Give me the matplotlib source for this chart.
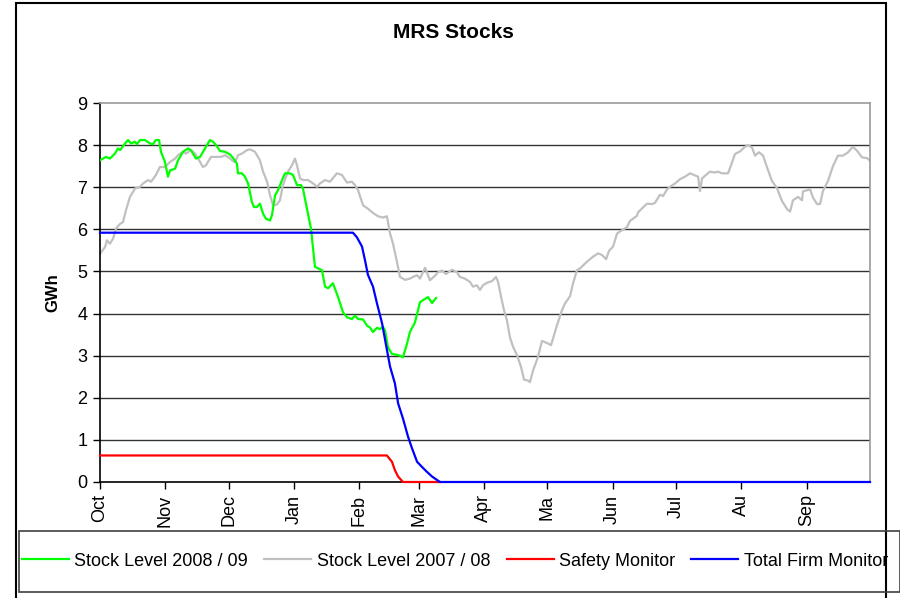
import matplotlib
matplotlib.use("Agg")
import matplotlib.pyplot as plt
from matplotlib.patches import Rectangle

plt.rcParams['font.family'] = ['Liberation Sans', 'DejaVu Sans']

# days since 1 Oct
months = ['Oct', 'Nov', 'Dec', 'Jan', 'Feb', 'Mar', 'Apr', 'Ma', 'Jun', 'Jul', 'Au', 'Sep']
month_days = [0, 31, 61, 92, 123, 151, 182, 212, 243, 273, 304, 335]

# Stock level 2008/09
d0809 = [0, 2.8, 4.7, 7.1, 8.5, 9.5, 11.9, 13.3, 14.7, 16.6, 17.5, 19.0, 21.3, 23.7, 25.1,
         26.5, 28.0, 28.9, 30.8, 32.2, 33.2, 35.6, 37.0, 39.3, 41.7, 43.1, 45.5, 47.4, 49.8,
         52.1, 53.6, 55.0, 56.9, 59.3, 61.6, 63.0, 64.9, 65.4, 67.3, 68.7, 70.2, 72.0, 73.0,
         74.4, 75.8, 77.3, 78.7, 80.6, 81.5, 83.0, 84.4, 86.3, 87.7, 90.1, 91.5, 93.4, 95.3,
         96.2, 98.1, 100.0, 101.0, 101.9, 105.2, 106.7, 108.1, 110.4, 112.8, 115.2, 117.1,
         119.4, 120.9, 122.3, 124.7, 126.6, 128.0, 129.4, 131.3, 132.7, 134.1, 135.1, 136.5,
         138.4, 140.8, 142.2, 143.6, 145.5, 146.9, 149.3, 151.7, 154.1, 155.5, 157.4, 159.3]
v0809 = [7.64, 7.72, 7.68, 7.80, 7.92, 7.88, 8.04, 8.12, 8.04, 8.08, 8.02, 8.12, 8.12, 8.04, 8.02,
         8.12, 8.12, 7.84, 7.60, 7.25, 7.40, 7.44, 7.64, 7.84, 7.92, 7.88, 7.68, 7.72, 7.92,
         8.12, 8.08, 8.00, 7.86, 7.84, 7.78, 7.70, 7.56, 7.33, 7.33, 7.25, 7.09, 6.65, 6.53,
         6.53, 6.61, 6.37, 6.25, 6.21, 6.33, 6.81, 6.93, 7.17, 7.33, 7.33, 7.29, 7.05, 7.05,
         6.97, 6.49, 6.02, 5.54, 5.11, 5.03, 4.64, 4.60, 4.72, 4.40, 4.03, 3.91,
         3.87, 3.95, 3.87, 3.86, 3.71, 3.67, 3.56, 3.66, 3.63, 3.69, 3.60, 3.20,
         3.04, 3.02, 3.00, 2.96, 3.28, 3.56, 3.79, 4.27, 4.35, 4.39, 4.25, 4.37]

# Stock level 2007/08
d0708 = [0, 2.4, 3.3, 4.7, 6.2, 7.6, 9.5, 10.9, 12.3, 14.2, 16.6, 19.0, 20.4, 22.8, 24.2, 26.5,
         28.4, 30.8, 33.2, 35.6, 37.0, 39.3, 40.8, 43.1, 45.0, 46.5, 48.8, 50.2, 52.6, 55.0,
         57.4, 59.3, 61.2, 63.0, 64.0, 65.4, 67.3, 69.7, 71.1, 73.5, 75.8, 77.3, 79.2, 80.6,
         82.0, 83.9, 85.3, 86.7, 89.1, 91.0, 92.4, 93.4, 94.8, 96.2, 98.6, 101.0, 102.9, 104.3,
         106.7, 109.0, 112.3, 114.7, 117.1, 119.4, 120.9, 122.3, 124.7, 127.0, 129.4, 131.8,
         134.1, 136.0, 137.5, 138.9, 140.8, 142.2, 144.6, 146.9, 148.4, 150.3, 151.7, 154.1,
         156.4, 158.8, 160.2, 162.1, 164.0, 166.9, 169.2, 170.6, 173.0, 175.4, 176.8, 178.7,
         180.1, 181.5, 183.4, 185.8, 187.7, 188.7, 190.1, 191.5, 192.9, 194.3, 195.8, 197.7,
         199.6, 201.0, 202.9, 203.8, 205.3, 207.6, 209.5, 211.9, 213.8, 215.2, 216.6, 219.0,
         220.4, 222.8, 224.2, 226.1, 227.5, 230.8, 233.7, 236.1, 238.0, 239.9, 241.3, 243.2,
         245.1, 247.4, 249.8, 251.2, 254.5, 255.0, 257.4, 259.3, 261.7, 263.1, 265.4, 266.9,
         268.8, 270.2, 272.6, 274.9, 277.3, 279.7, 281.6, 283.5, 284.4, 285.4, 287.7, 289.1,
         291.5, 293.0, 294.8, 297.7, 299.6, 301.0, 303.4, 305.7, 307.2, 309.1, 310.5, 312.4,
         314.3, 316.2, 318.5, 320.9, 323.3, 325.7, 327.1, 328.5, 330.9, 332.8, 333.2, 336.6,
         338.0, 339.9, 341.3, 342.7, 345.1, 347.5, 349.8, 352.2, 354.6, 356.9, 358.8, 361.2,
         363.6, 365.0]
v0708 = [5.42, 5.58, 5.74, 5.66, 5.78, 6.02, 6.13, 6.17, 6.45, 6.77, 6.97, 7.01, 7.09, 7.17, 7.13, 7.29,
         7.48, 7.48, 7.60, 7.68, 7.76, 7.84, 7.80, 7.88, 7.80, 7.68, 7.48, 7.52, 7.72, 7.72,
         7.72, 7.76, 7.70, 7.62, 7.60, 7.76, 7.80, 7.88, 7.90, 7.84, 7.64, 7.37, 7.13, 6.81,
         6.57, 6.59, 6.69, 7.05, 7.37, 7.52, 7.68, 7.52, 7.21, 7.17, 7.17, 7.09, 7.01, 7.09,
         7.17, 7.13, 7.33, 7.29, 7.11, 7.13, 7.05, 6.93, 6.57, 6.49, 6.39, 6.31,
         6.28, 6.31, 5.90, 5.66, 5.22, 4.87, 4.80, 4.83, 4.87, 4.91, 4.83, 5.09,
         4.79, 4.90, 4.98, 5.02, 4.94, 5.04, 4.98, 4.87, 4.83, 4.75, 4.64, 4.67,
         4.56, 4.67, 4.73, 4.77, 4.87, 4.75, 4.40, 4.08, 3.84, 3.44, 3.21, 3.01,
         2.73, 2.43, 2.41, 2.37, 2.65, 2.97, 3.35, 3.30, 3.25, 3.48, 3.72, 4.08,
         4.24, 4.41, 4.71, 5.03, 5.07, 5.23, 5.35, 5.43, 5.39, 5.29, 5.49, 5.59,
         5.90, 5.98, 6.05, 6.20, 6.32, 6.40, 6.52, 6.61, 6.60, 6.63, 6.82, 6.79,
         6.95, 7.01, 7.09, 7.19, 7.25, 7.33, 7.29, 7.25, 6.91, 7.21, 7.31, 7.37,
         7.35, 7.37, 7.33, 7.33, 7.59, 7.79, 7.85, 7.96, 8.00, 7.94, 7.75, 7.83,
         7.75, 7.47, 7.15, 6.98, 6.67, 6.48, 6.42, 6.69, 6.77, 6.69, 6.90, 6.95,
         6.75, 6.60, 6.60, 6.91, 7.15, 7.51, 7.75, 7.75, 7.83, 7.96, 7.87, 7.71,
         7.69, 7.63]

# Safety monitor
d_safety = [0, 136.0, 138.4, 139.8, 141.3, 143.6, 161.2]
v_safety = [0.63, 0.63, 0.48, 0.28, 0.13, 0.0, 0.0]

# Total firm monitor
d_firm = [0, 119.9, 121.8, 124.2, 125.6, 127.0, 129.4, 131.3, 133.7, 136.0, 137.5, 139.8,
          141.3, 143.6, 146.0, 147.9, 150.3, 152.6, 155.0, 157.4, 159.7, 161.2, 365]
v_firm = [5.92, 5.92, 5.81, 5.59, 5.27, 4.92, 4.64, 4.24, 3.77, 3.14, 2.74, 2.34,
          1.87, 1.51, 1.08, 0.80, 0.48, 0.36, 0.24, 0.13, 0.05, 0.0, 0.0]

fig = plt.figure(figsize=(9, 5.98), dpi=100)
ax = fig.add_axes([100 / 900, 116 / 598, 770 / 900, 379 / 598])

# outer chart frame
fig.patches.append(Rectangle((16 / 900, -0.02), 870 / 900, 1.0 - 3 / 598 + 0.02,
                             transform=fig.transFigure, fill=False, ec='black', lw=1.5))

for y in range(1, 9):
    ax.axhline(y, color='#333333', lw=1, zorder=1)

l1, = ax.plot(d0809, v0809, color='#00ff00', lw=1.6, label='Stock Level 2008 / 09', zorder=3)
l2, = ax.plot(d0708, v0708, color='#c0c0c0', lw=1.6, label='Stock Level 2007 / 08', zorder=2)
l3, = ax.plot(d_safety, v_safety, color='#ff0000', lw=1.6, label='Safety Monitor', zorder=4,
              clip_on=False)
l4, = ax.plot(d_firm, v_firm, color='#0000ff', lw=1.6, label='Total Firm Monitor', zorder=5,
              clip_on=False)

ax.set_xlim(0, 365)
ax.set_ylim(0, 9)
ax.set_yticks(range(0, 10))
ax.set_xticks(month_days)
ax.set_xticklabels(months, rotation=90, fontsize=13)
ax.tick_params(axis='y', labelsize=13, length=5, width=1, pad=4)
ax.tick_params(axis='x', length=5, width=1, pad=4)

ax.spines['left'].set_color('black')
ax.spines['bottom'].set_color('black')
ax.spines['top'].set_color('#999999')
ax.spines['right'].set_color('#999999')
for s in ax.spines.values():
    s.set_linewidth(1.2)

ax.set_ylabel('GWh', fontsize=12, fontweight='bold', labelpad=12)
fig.text(453 / 900, 1 - 33 / 598, 'MRS Stocks', fontsize=15, fontweight='bold',
         ha='center', va='center')

# legend box
fig.patches.append(Rectangle((19 / 900, 6 / 598), 881 / 900, 61 / 598,
                             transform=fig.transFigure, fill=False, ec='#404040', lw=1.2))
fig.legend(handles=[l1, l2, l3, l4], loc='center', ncol=4, frameon=False,
           bbox_to_anchor=(455 / 900, 37 / 598), fontsize=13, handlelength=2.6,
           handletextpad=0.3, columnspacing=0.9)

fig.savefig('out.png', dpi=100)
